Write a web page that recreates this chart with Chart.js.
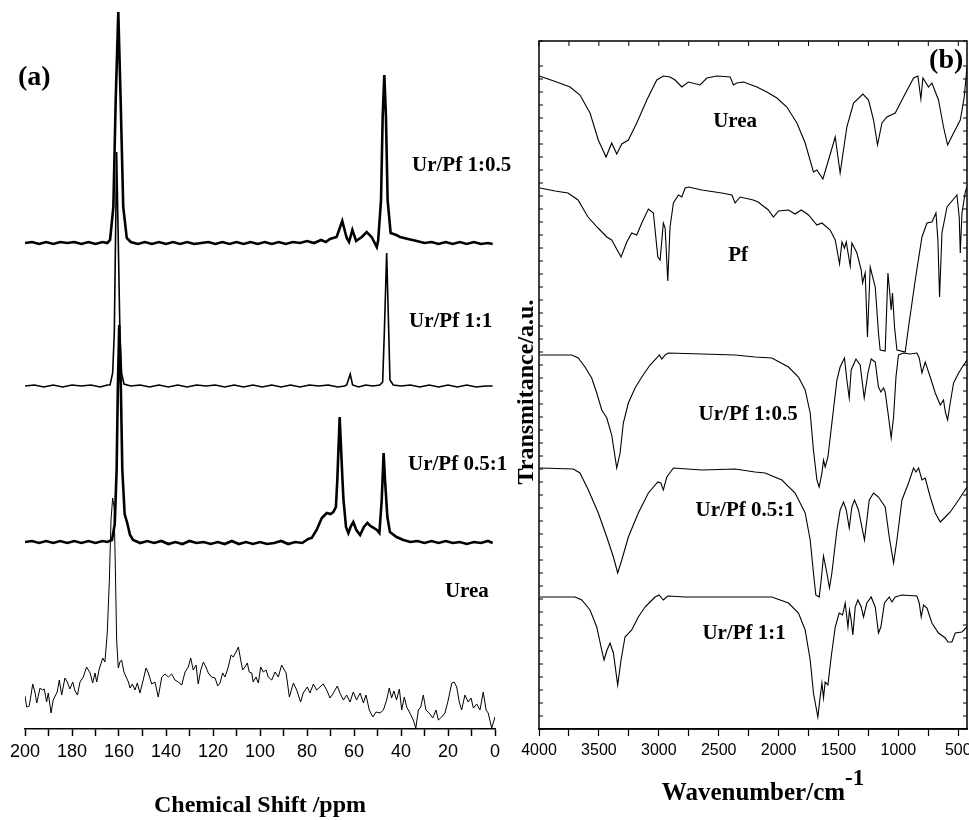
<!DOCTYPE html>
<html>
<head>
<meta charset="utf-8">
<script src="https://cdn.jsdelivr.net/npm/chart.js@4.4.1/dist/chart.umd.min.js"></script>
<style>
html, body { margin: 0; padding: 0; background: #fff; overflow: hidden; }
#lienzo { position: relative; width: 969px; height: 820px; overflow: hidden; }
#rmn { position: absolute; left: 0; top: 0; }
#ir { position: absolute; left: 500px; top: 0; }
</style>
</head>
<body>
<div id="lienzo">
<canvas id="rmn" width="520" height="820"></canvas>
<canvas id="ir" width="490" height="820"></canvas>
</div>
<script>
// RMN: [desplazamiento ppm, intensidad apilada a.u.]
const rmnUrPf1a05 = [[200,486],[197,487],[194,485],[191,487],[188,485],[185,487],[182,486],[179,487],[176,485],[173,487],[170,485],[167,487],[165,486],[163.8,489],[162.4,522],[161.4,629],[160.3,717],[159.3,629],[158.2,522],[156.7,491],[155,487],[152,485],[149,487],[146,485],[143,487],[140,485],[137,487],[134,485],[131,487],[128,485],[125,486],[122,487],[119,485],[116,487],[113,485],[110,487],[107,485],[104,487],[101,485],[98,487],[95,485],[92,487],[89,485],[86,487],[83,486],[80,488],[77,486],[74,489],[72,487],[70.2,490],[67.4,492],[65,508],[63.1,491],[62.1,487],[60.7,499],[59.1,488],[56.7,492],[54.6,497],[52.5,492],[50.3,482],[49.7,489],[48.5,529],[47.8,612],[47.1,654],[46.4,612],[45.7,529],[44.4,496],[42,494],[40.4,492],[37,490],[33.3,488],[30,486],[27,487],[24,485],[21,487],[18,485],[15,487],[12,485],[9,487],[6,485],[3,486],[1,485]];
const rmnUrPf1a1 = [[200,343],[196,344],[192,342],[188,344],[184,342],[180,344],[176,343],[172,344],[168,342],[165,344],[163.8,344],[162.7,356],[162,396],[161,577],[159.6,396],[158.9,356],[157.9,345],[155,343],[151,344],[147,342],[143,344],[139,342],[135,344],[131,342],[127,344],[123,343],[119,344],[115,342],[111,344],[107,342],[103,344],[99,342],[95,344],[91,342],[87,344],[83,342],[79,344],[75,343],[71,344],[67,342],[64,343],[63.1,344],[61.6,355],[60.6,344],[58,342],[55,344],[52,343],[49,344],[47.8,347],[47.1,396],[46.1,476],[45.2,396],[44.7,349],[43.3,344],[40,343],[36,344],[32,342],[28,344],[24,342],[20,344],[16,342],[12,344],[8,342],[4,343],[1,343]];
const rmnUrPf05a1 = [[200,187],[197,188],[194,186],[191,188],[188,186],[185,188],[182,186],[179,188],[176,186],[173,188],[170,186],[167,188],[165,187],[163,189],[161.8,205],[161,260],[160.5,340],[159.9,404],[159.2,340],[158.6,260],[157.6,215],[156.5,206],[155.3,194],[154,189],[151,186],[148,188],[145,186],[142,188],[139,185],[136,187],[133,185],[130,188],[127,186],[124,187],[121,185],[118,187],[115,185],[112,188],[109,185],[106,187],[103,185],[100,187],[97,185],[94,186],[91,188],[88,185],[85,187],[82,186],[79.5,190],[78,191],[75.9,199],[73.7,211],[71.6,216],[70,215],[68.8,217],[67.7,222],[67.1,249],[66.1,312],[64.9,249],[64.5,230],[63.4,202],[62.4,196],[61.3,203],[60.3,207],[59,199],[57.4,194],[55.8,202],[54.3,206],[53,203],[51.5,201],[50.3,199],[49.2,196],[48.2,229],[47.4,276],[46.8,249],[45.8,212],[44.7,197],[41.9,192],[39,189],[36,187],[33,188],[30,186],[27,188],[24,186],[21,188],[18,186],[15,187],[12,185],[9,187],[6,186],[3,188],[1,186]];
const rmnUrea = [[200,33],[199.3,22],[198.2,23],[196.7,45],[195.7,36],[195,26],[193.6,41],[192.6,39],[191.8,40],[190.8,27],[190.1,36],[188.9,16],[188,29],[186.3,37],[185.4,49],[184.4,34],[183,51],[182,47],[180.9,40],[179.7,47],[178.7,38],[177.7,34],[176.6,47],[175.2,52],[173.8,62],[172.3,56],[171.2,46],[170.2,56],[169.5,47],[168.4,60],[166.9,71],[166,67],[165,96],[164.1,149],[163.4,209],[162.7,231],[162.1,222],[161.6,166],[161,89],[160.3,61],[159.6,67],[158.9,69],[157.9,57],[156,47],[155.3,41],[154.3,45],[153.2,39],[152.2,46],[151.1,36],[149.7,49],[148.5,61],[147.5,56],[146.1,45],[144.7,47],[143.3,32],[141.8,52],[140.4,55],[139,52],[137.6,55],[136.2,49],[134.8,47],[133.3,44],[131.9,57],[130.5,62],[129.5,71],[128.4,59],[127.2,64],[126.3,45],[125.2,59],[124.1,67],[123,62],[122,56],[120.6,52],[119.1,51],[118,43],[117,46],[115.9,56],[114.9,52],[113.5,62],[112.3,74],[111.4,72],[110.2,77],[109.2,82],[108.2,69],[107.4,59],[106.4,62],[105.4,66],[104.6,57],[103.5,56],[102.9,47],[101.7,52],[100.7,46],[99.7,62],[98.6,57],[97.4,59],[96.5,52],[95,49],[93.6,57],[92.2,52],[90.8,64],[90.1,61],[88.9,56],[87.5,32],[85.8,46],[84.4,39],[82.7,27],[81.6,36],[79.9,42],[78.7,36],[77.3,45],[75.9,39],[74.5,42],[73.1,45],[71.6,39],[70.2,31],[68.8,36],[67.1,43],[66,36],[64.5,29],[63.1,34],[61.7,27],[60.3,37],[58.9,29],[57.4,36],[56,26],[54.9,34],[53.5,19],[52,12],[50.6,17],[48.9,16],[47.5,19],[46.1,29],[45,41],[44,31],[43,38],[41.9,29],[40.7,40],[39.7,19],[38.6,32],[37.6,22],[36.2,16],[34.8,9],[33.7,1],[32.6,19],[31.6,22],[30.5,34],[29.4,19],[28,16],[26.5,11],[25.1,19],[24.1,9],[22.7,12],[21.3,16],[19.9,29],[18.4,46],[17.4,47],[16.3,42],[15.2,27],[14.2,19],[12.8,34],[11.4,27],[10.2,31],[9.2,21],[7.8,25],[6.4,19],[5,37],[3.8,19],[2.9,16],[1.4,1],[0,12]];

// IR: [numero de onda cm-1, transmitancia apilada a.u.]
const irUrea = [[3998,653],[3852,647],[3741,642],[3658,634],[3574,616],[3505,589],[3440,572],[3393,586],[3351,575],[3309,585],[3254,589],[3184,606],[3100,629],[3017,649],[2962,653],[2906,652],[2864,649],[2808,642],[2753,647],[2655,644],[2599,651],[2516,653],[2404,652],[2377,644],[2349,646],[2293,647],[2181,642],[2098,637],[2014,631],[1931,622],[1847,606],[1778,586],[1709,557],[1680,559],[1630,550],[1583,569],[1527,592],[1486,556],[1430,602],[1374,626],[1296,635],[1249,629],[1207,609],[1174,584],[1137,606],[1096,612],[1026,616],[957,632],[873,651],[837,653],[812,630],[795,651],[748,642],[720,646],[665,629],[623,602],[589,584],[539,596],[483,609],[450,632],[427,662]];
const irPf = [[3992,541],[3866,538],[3758,536],[3674,529],[3591,512],[3507,501],[3434,492],[3393,489],[3315,472],[3267,487],[3226,496],[3184,494],[3142,506],[3087,520],[3045,516],[3008,472],[2989,469],[2962,506],[2947,501],[2925,448],[2906,502],[2878,526],[2836,534],[2808,532],[2780,541],[2753,542],[2641,539],[2474,536],[2390,534],[2363,526],[2321,532],[2212,529],[2171,527],[2085,519],[2043,512],[2001,518],[1917,519],[1862,515],[1811,519],[1750,514],[1680,504],[1638,506],[1569,499],[1527,489],[1491,465],[1471,487],[1450,481],[1435,487],[1402,463],[1388,486],[1346,476],[1310,459],[1299,446],[1277,456],[1258,392],[1235,462],[1193,442],[1166,396],[1152,379],[1110,378],[1087,456],[1074,439],[1060,419],[1049,436],[1032,402],[1012,379],[943,377],[915,402],[859,449],[803,492],[761,506],[720,507],[686,516],[670,489],[656,432],[636,496],[594,522],[511,534],[492,512],[483,476],[469,516],[441,537],[427,542]];
const irUrPf1a05 = [[3992,374],[3727,374],[3672,371],[3616,362],[3560,351],[3518,336],[3476,319],[3434,311],[3393,294],[3351,261],[3323,276],[3296,306],[3254,326],[3198,341],[3142,352],[3073,364],[3017,371],[2995,374],[2975,370],[2947,374],[2920,376],[2641,375],[2363,374],[2196,372],[2056,371],[1917,362],[1834,352],[1778,339],[1736,316],[1709,279],[1680,249],[1661,242],[1638,256],[1625,269],[1611,262],[1588,272],[1555,306],[1513,349],[1486,362],[1450,371],[1430,349],[1410,331],[1394,359],[1354,370],[1319,364],[1285,331],[1254,356],[1227,370],[1193,367],[1166,342],[1146,337],[1124,341],[1110,337],[1082,312],[1060,291],[1040,312],[1020,352],[999,374],[957,376],[901,375],[845,376],[826,371],[803,356],[776,367],[734,352],[692,336],[650,324],[623,329],[608,317],[589,309],[567,326],[539,346],[497,356],[466,362],[427,369]];
const irUrPf05a1 = [[3992,261],[3713,260],[3658,256],[3588,239],[3505,216],[3434,192],[3379,172],[3343,156],[3309,169],[3254,192],[3171,216],[3087,236],[3008,247],[2983,246],[2962,239],[2933,252],[2878,261],[2641,259],[2363,260],[2196,257],[2112,256],[1973,249],[1862,236],[1778,216],[1736,189],[1709,156],[1689,134],[1661,132],[1644,149],[1625,173],[1597,156],[1575,141],[1555,156],[1513,199],[1486,219],[1458,227],[1435,219],[1410,201],[1388,222],[1366,229],[1333,219],[1283,189],[1243,229],[1207,236],[1166,232],[1110,222],[1076,192],[1040,166],[1012,189],[970,229],[915,246],[873,261],[853,257],[831,261],[803,249],[776,251],[734,232],[692,216],[650,207],[608,212],[567,217],[497,229],[427,242]];
const irUrPf1a1 = [[3992,132],[3699,132],[3643,129],[3574,119],[3518,102],[3482,82],[3457,69],[3432,79],[3407,86],[3379,76],[3343,44],[3315,69],[3282,92],[3226,99],[3171,112],[3115,122],[3073,127],[3031,132],[2998,134],[2962,129],[2925,133],[2780,132],[2363,132],[2196,132],[2056,132],[1917,126],[1834,116],[1778,99],[1736,69],[1709,36],[1672,12],[1656,29],[1638,46],[1625,31],[1611,47],[1588,44],[1561,72],[1527,102],[1494,116],[1466,114],[1444,126],[1421,102],[1408,119],[1394,109],[1380,94],[1360,122],[1338,129],[1310,122],[1291,112],[1263,126],[1227,132],[1193,122],[1166,96],[1146,102],[1116,126],[1076,132],[1054,127],[1026,132],[970,134],[845,133],[826,126],[809,112],[790,124],[761,121],[720,106],[665,96],[608,91],[586,87],[553,87],[525,96],[469,97],[427,102]];

const marcasRmn = [200, 180, 160, 140, 120, 100, 80, 60, 40, 20, 0];
const marcasIr = [4000, 3500, 3000, 2500, 2000, 1500, 1000, 500];
const nombresRmn = ["Ur/Pf 1:0.5", "Ur/Pf 1:1", "Ur/Pf 0.5:1", "Urea"];
const nombresIr = ["Urea", "Pf", "Ur/Pf 1:0.5", "Ur/Pf 0.5:1", "Ur/Pf 1:1"];

const negro = "#000";
const fuenteSerif = '"Liberation Serif", "Times New Roman", serif';
const fuenteSans = '"Liberation Sans", Arial, sans-serif';

function serie(puntos, grosor) {
    return { data: puntos, borderColor: negro, borderWidth: grosor, pointRadius: 0, fill: false, tension: 0 };
}

// textos colocados en coordenadas de datos
function pluginTextos(items) {
    return {
        id: "textos",
        afterDraw(chart) {
            const { ctx } = chart;
            const { x, y } = chart.scales;
            ctx.save();
            ctx.fillStyle = negro;
            ctx.textBaseline = "middle";
            items.forEach(item => {
                ctx.font = `bold ${item.size}px ${fuenteSerif}`;
                ctx.textAlign = item.align || "left";
                ctx.fillText(item.text, x.getPixelForValue(item.x), y.getPixelForValue(item.y));
            });
            ctx.restore();
        }
    };
}

const marcoIr = {
    id: "marcoIr",
    afterDraw(chart) {
        const { ctx, chartArea: area } = chart;
        const { x, y } = chart.scales;
        ctx.save();
        ctx.strokeStyle = negro;
        ctx.lineWidth = 1.5;
        ctx.strokeRect(area.left, area.top, area.right - area.left, area.bottom - area.top);
        ctx.lineWidth = 1;
        ctx.beginPath();
        x.ticks.forEach(tick => {
            const px = x.getPixelForValue(tick.value);
            ctx.moveTo(px, area.top);
            ctx.lineTo(px, area.top + 5);
        });
        y.ticks.forEach(tick => {
            const py = y.getPixelForValue(tick.value);
            ctx.moveTo(area.left, py);
            ctx.lineTo(area.left + 4, py);
            ctx.moveTo(area.right, py);
            ctx.lineTo(area.right - 4, py);
        });
        ctx.stroke();

        // titulo del eje x con superindice
        ctx.fillStyle = negro;
        const base = "Wavenumber/cm";
        ctx.font = `bold 25px ${fuenteSerif}`;
        const anchoBase = ctx.measureText(base).width;
        ctx.font = `bold 23px ${fuenteSerif}`;
        const anchoSup = ctx.measureText("-1").width;
        const inicio = (area.left + area.right) / 2 + 10 - (anchoBase + anchoSup) / 2;
        ctx.textAlign = "left";
        ctx.textBaseline = "alphabetic";
        ctx.font = `bold 25px ${fuenteSerif}`;
        ctx.fillText(base, inicio, area.bottom + 71);
        ctx.font = `bold 23px ${fuenteSerif}`;
        ctx.fillText("-1", inicio + anchoBase, area.bottom + 56);

        // titulo del eje y
        ctx.translate(area.left - 12, (area.top + area.bottom) / 2 + 7);
        ctx.rotate(-Math.PI / 2);
        ctx.font = `bold 24px ${fuenteSerif}`;
        ctx.textAlign = "center";
        ctx.textBaseline = "middle";
        ctx.fillText("Transmitance/a.u.", 0, 0);
        ctx.restore();
    }
};

new Chart(document.getElementById("rmn"), {
    type: "line",
    data: {
        datasets: [serie(rmnUrPf1a05, 2.6), serie(rmnUrPf1a1, 1.6), serie(rmnUrPf05a1, 2.6), serie(rmnUrea, 1)]
    },
    options: {
        responsive: false,
        animation: false,
        devicePixelRatio: 1,
        layout: { padding: { left: 25, right: 25, top: 0, bottom: 0 } },
        plugins: { legend: { display: false }, tooltip: { enabled: false } },
        scales: {
            x: {
                type: "linear",
                reverse: true,
                min: 0,
                max: 200,
                border: { display: true, color: negro, width: 1.5 },
                grid: { drawOnChartArea: false, drawTicks: true, tickLength: 7, tickColor: negro, tickWidth: 1.5 },
                ticks: {
                    stepSize: 10,
                    autoSkip: false,
                    maxRotation: 0,
                    padding: 5,
                    color: negro,
                    font: { family: fuenteSans, size: 18 },
                    callback: valor => marcasRmn.includes(valor) ? String(valor) : ""
                },
                title: {
                    display: true,
                    text: "Chemical Shift /ppm",
                    color: negro,
                    font: { family: fuenteSerif, size: 24, weight: "bold" },
                    padding: { top: 23.6, bottom: 0 }
                }
            },
            y: { display: false, min: 0, max: 729 }
        }
    },
    plugins: [pluginTextos([
        { text: "(a)", x: 203, y: 651, size: 28 },
        { text: nombresRmn[0], x: 35.3, y: 563, size: 21 },
        { text: nombresRmn[1], x: 36.6, y: 407, size: 21 },
        { text: nombresRmn[2], x: 37.0, y: 264, size: 21 },
        { text: nombresRmn[3], x: 21.3, y: 137, size: 21 }
    ])]
});

new Chart(document.getElementById("ir"), {
    type: "line",
    data: {
        datasets: [irUrea, irPf, irUrPf1a05, irUrPf05a1, irUrPf1a1].map(puntos => serie(puntos, 1.1))
    },
    options: {
        responsive: false,
        animation: false,
        devicePixelRatio: 1,
        layout: { padding: { left: 39, right: 23, top: 41, bottom: 54.8 } },
        plugins: { legend: { display: false }, tooltip: { enabled: false } },
        scales: {
            x: {
                type: "linear",
                reverse: true,
                min: 427,
                max: 4000,
                border: { display: true, color: negro, width: 1.5 },
                grid: { drawOnChartArea: false, drawTicks: true, tickLength: 7, tickColor: negro, tickWidth: 1.2 },
                ticks: {
                    stepSize: 250,
                    includeBounds: false,
                    autoSkip: false,
                    maxRotation: 0,
                    padding: 5,
                    color: negro,
                    font: { family: fuenteSans, size: 16 },
                    callback: valor => marcasIr.includes(valor) ? String(valor) : ""
                }
            },
            y: {
                min: 0,
                max: 688,
                ticks: { display: false, stepSize: 13 },
                grid: { display: false, drawTicks: false },
                border: { display: false }
            }
        }
    },
    plugins: [marcoIr, pluginTextos([
        { text: nombresIr[0], x: 2363, y: 607, size: 21, align: "center" },
        { text: nombresIr[1], x: 2338, y: 473, size: 21, align: "center" },
        { text: nombresIr[2], x: 2254, y: 314, size: 21, align: "center" },
        { text: nombresIr[3], x: 2279, y: 218, size: 21, align: "center" },
        { text: nombresIr[4], x: 2288, y: 95, size: 21, align: "center" },
        { text: "(b)", x: 458, y: 668, size: 28, align: "right" }
    ])]
});
</script>
</body>
</html>
